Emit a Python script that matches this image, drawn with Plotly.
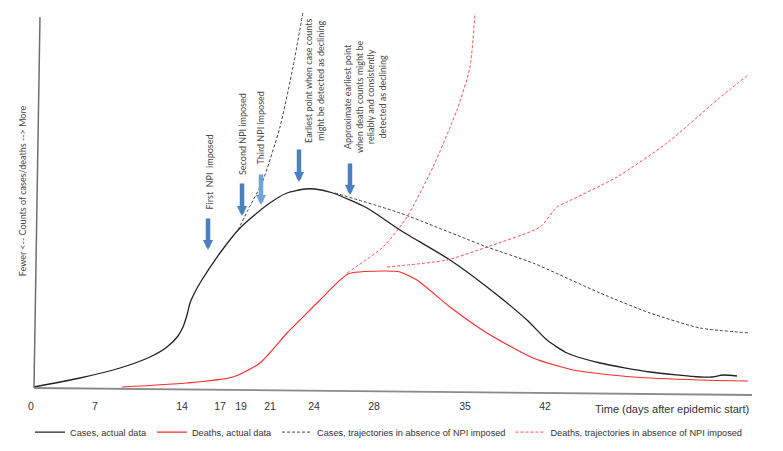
import plotly.graph_objects as go

# ---- data (x = position along hand-drawn time axis, y = relative count level) ----
tick_days = ["0", "7", "14", "17", "19", "21", "24", "28", "35", "42"]
tick_pos = [-3, 61, 148, 186, 207, 236, 280, 340, 431, 511]

cases_x = [0, 46, 86, 116, 133, 144, 149, 153, 156, 161, 166, 186, 206, 233, 253, 271,
           281, 299, 333, 366, 416, 453, 493, 513, 533, 566, 616, 666, 678, 689, 703]
cases_y = [1, 10, 20, 31, 41, 52, 61, 73, 85, 96, 105, 135, 160, 183, 195, 199,
           199, 195, 180, 158, 128, 101, 68, 48, 35, 25, 16, 11, 11, 13, 12]

deaths_x = [88, 153, 199, 226, 253, 266, 286, 314, 349, 366, 383, 416, 453, 499, 539, 599, 666, 716]
deaths_y = [1, 5, 11, 25, 55, 68, 88, 114, 117, 116, 108, 81, 55, 30, 18, 11, 8, 7]

cases_cf_x = [204, 216, 228, 246, 259, 269, None, 301, 366, 453, 499, 566, 616, 666, 716]
cases_cf_y = [158, 182, 205, 261, 321, 376, None, 195, 175, 141, 125, 95, 75, 60, 55]

deaths_cf_x = [313, 349, 373, 399, 423, 436, 441, None, 353, 413, 453, 506, 523, 533, 583, 633, 683, 714]
deaths_cf_y = [115, 141, 171, 221, 278, 321, 375, None, 121, 128, 141, 161, 181, 186, 211, 245, 288, 313]

event_labels = ["First  NPI  imposed", "Second NPI imposed", "Third NPI imposed",
                "Earliest point when case counts<br>might be detected as declining",
                "Approximate earliest point<br>when death counts might be<br>reliably and consistently<br>detected as declining"]
event_x = [174, 208, 227, 265, 316]
event_head_y = [138, 172, 183, 206, 193]
event_tail_y = [171, 206, 215, 240, 226]
label_x = [175, 208, 226, 280, 331]
label_bottom_y = [176, 211, 221, 243, 233]
arrow_colors = ["#4a7fc0", "#4a7fc0", "#6fa3dc", "#4a7fc0", "#4a7fc0"]

NARROW = "Liberation Sans Narrow, Arial Narrow, sans-serif"
LABEL_FONT = "Lato, Open Sans, sans-serif"

fig = go.Figure()
fig.add_trace(go.Scatter(x=cases_x, y=cases_y, mode="lines", name="Cases, actual data",
                         line=dict(color="#222222", width=1.3, shape="spline", smoothing=0.6)))
fig.add_trace(go.Scatter(x=deaths_x, y=deaths_y, mode="lines", name="Deaths, actual data",
                         line=dict(color="#ff2a2a", width=1.1, shape="spline", smoothing=0.6)))
fig.add_trace(go.Scatter(x=cases_cf_x, y=cases_cf_y, mode="lines",
                         name="Cases, trajectories in absence of NPI imposed",
                         line=dict(color="#444444", width=1, dash="3px,2px", shape="spline", smoothing=0.6),
                         connectgaps=False))
fig.add_trace(go.Scatter(x=deaths_cf_x, y=deaths_cf_y, mode="lines",
                         name="Deaths, trajectories in absence of NPI imposed",
                         line=dict(color="#ff4d4d", width=1, dash="3px,2px", shape="spline", smoothing=0.6),
                         connectgaps=False))

annotations = []
for xv, hy, ty, col in zip(event_x, event_head_y, event_tail_y, arrow_colors):
    annotations.append(dict(x=xv, y=hy, ax=xv, ay=ty, xref="x", yref="y", axref="x", ayref="y",
                            text="", showarrow=True, arrowhead=2, arrowsize=0.45,
                            arrowwidth=4.5, arrowcolor=col, standoff=0))
for txt, lx, ly in zip(event_labels, label_x, label_bottom_y):
    annotations.append(dict(x=lx, y=ly, xref="x", yref="y", text=txt, showarrow=False,
                            textangle=-90, xanchor="center", yanchor="bottom", align="center",
                            font=dict(family=LABEL_FONT, size=9, color="#484848")))
annotations.append(dict(x=-0.0111, y=0.518, xref="paper", yref="paper",
                        text="Fewer <-- Counts of cases/deaths --> More", showarrow=False,
                        textangle=-90, xanchor="center", yanchor="middle",
                        font=dict(family=LABEL_FONT, size=9, color="#484848")))
annotations.append(dict(x=1.0042, y=-0.0553, xref="paper", yref="paper",
                        text="Time (days after epidemic start)", showarrow=False,
                        xanchor="right", yanchor="middle",
                        font=dict(family=NARROW, size=11, color="#333333")))

shapes = [
    dict(type="line", xref="paper", yref="paper", x0=0.00557, y0=0, x1=0.0139, y1=0.976,
         line=dict(color="#707070", width=1.5)),
    dict(type="line", xref="paper", yref="paper", x0=0.00557, y0=0, x1=1.0056, y1=-0.0184,
         line=dict(color="#8a8a8a", width=1.8)),
]

fig.update_layout(
    width=775, height=443,
    margin=dict(l=22, r=35, t=0, b=63, autoexpand=False),
    paper_bgcolor="white", plot_bgcolor="white",
    showlegend=True,
    legend=dict(orientation="h", x=0.0, y=-0.116, xanchor="left", yanchor="middle",
                font=dict(family=NARROW, size=9.2, color="#333333"),
                itemwidth=30, bgcolor="rgba(0,0,0,0)"),
    xaxis=dict(range=[-4, 714], showgrid=False, zeroline=False, showline=False,
               tickmode="array", tickvals=tick_pos, ticktext=tick_days, ticks="",
               ticklabelstandoff=10,
               tickfont=dict(family=NARROW, size=10.5, color="#333333")),
    yaxis=dict(range=[0, 380], showgrid=False, zeroline=False, showline=False,
               showticklabels=False, ticks=""),
    annotations=annotations,
    shapes=shapes,
)

fig.write_html("out.html")
